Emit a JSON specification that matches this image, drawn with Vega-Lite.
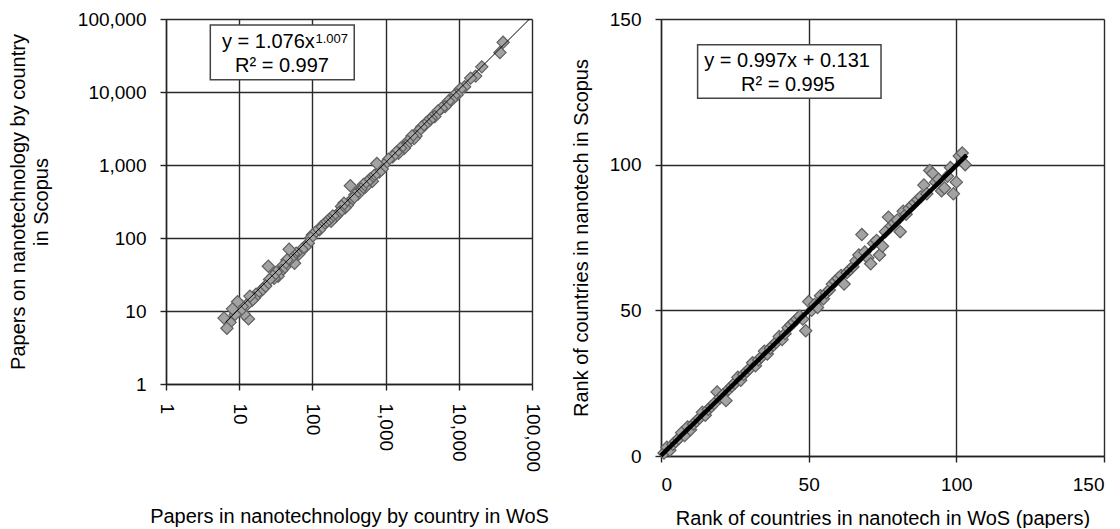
{
  "$schema": "https://vega.github.io/schema/vega-lite/v6.json",
  "background": "white",
  "padding": {"left": 8, "top": 10, "right": 2, "bottom": 0},
  "spacing": 22,
  "config": {
    "font": "Liberation Sans",
    "view": {"stroke": null},
    "axis": {
      "labelFont": "Liberation Sans", "labelFontSize": 19, "labelColor": "#000",
      "titleFont": "Liberation Sans", "titleFontSize": 20, "titleFontWeight": "normal", "titleColor": "#000",
      "domainColor": "#222", "domainWidth": 1.4, "tickColor": "#222", "tickWidth": 1.4, "tickSize": 6,
      "gridColor": "#2a2a2a", "gridWidth": 1.4, "gridOpacity": 1, "labelOverlap": false
    }
  },
  "datasets": {
    "papers": [
      {"wos": 40300, "scopus": 47900}, {"wos": 36400, "scopus": 34700}, {"wos": 20600, "scopus": 22100},
      {"wos": 17000, "scopus": 16500}, {"wos": 14500, "scopus": 15500}, {"wos": 12000, "scopus": 11800},
      {"wos": 10500, "scopus": 11000}, {"wos": 9500, "scopus": 9200}, {"wos": 8600, "scopus": 8900},
      {"wos": 8000, "scopus": 7800}, {"wos": 7200, "scopus": 7500}, {"wos": 6500, "scopus": 6300},
      {"wos": 5800, "scopus": 6000}, {"wos": 5200, "scopus": 5500}, {"wos": 4700, "scopus": 4600},
      {"wos": 4200, "scopus": 4400}, {"wos": 4000, "scopus": 4100}, {"wos": 3600, "scopus": 3800},
      {"wos": 3400, "scopus": 3500}, {"wos": 3100, "scopus": 3300}, {"wos": 2800, "scopus": 2900},
      {"wos": 2600, "scopus": 2500}, {"wos": 2450, "scopus": 2300}, {"wos": 2300, "scopus": 2500},
      {"wos": 2000, "scopus": 2100}, {"wos": 1900, "scopus": 1850}, {"wos": 1800, "scopus": 1700},
      {"wos": 1600, "scopus": 1700}, {"wos": 1500, "scopus": 1450}, {"wos": 1400, "scopus": 1500},
      {"wos": 1250, "scopus": 1300}, {"wos": 1100, "scopus": 1200}, {"wos": 950, "scopus": 1000},
      {"wos": 900, "scopus": 880}, {"wos": 820, "scopus": 800}, {"wos": 760, "scopus": 1050},
      {"wos": 700, "scopus": 720}, {"wos": 660, "scopus": 600}, {"wos": 620, "scopus": 650},
      {"wos": 590, "scopus": 610}, {"wos": 560, "scopus": 580}, {"wos": 530, "scopus": 500},
      {"wos": 500, "scopus": 540}, {"wos": 460, "scopus": 470}, {"wos": 440, "scopus": 430},
      {"wos": 420, "scopus": 400}, {"wos": 380, "scopus": 390}, {"wos": 360, "scopus": 350},
      {"wos": 330, "scopus": 520}, {"wos": 310, "scopus": 300}, {"wos": 300, "scopus": 280},
      {"wos": 280, "scopus": 260}, {"wos": 270, "scopus": 300}, {"wos": 250, "scopus": 270},
      {"wos": 240, "scopus": 230}, {"wos": 230, "scopus": 220}, {"wos": 210, "scopus": 200},
      {"wos": 200, "scopus": 190}, {"wos": 190, "scopus": 200}, {"wos": 180, "scopus": 170},
      {"wos": 170, "scopus": 180}, {"wos": 160, "scopus": 170}, {"wos": 150, "scopus": 160},
      {"wos": 140, "scopus": 150}, {"wos": 130, "scopus": 140}, {"wos": 125, "scopus": 130},
      {"wos": 110, "scopus": 120}, {"wos": 100, "scopus": 110}, {"wos": 95, "scopus": 100},
      {"wos": 88, "scopus": 85}, {"wos": 80, "scopus": 75}, {"wos": 72, "scopus": 70},
      {"wos": 65, "scopus": 60}, {"wos": 60, "scopus": 62}, {"wos": 57, "scopus": 45},
      {"wos": 55, "scopus": 60}, {"wos": 52, "scopus": 55}, {"wos": 50, "scopus": 52},
      {"wos": 48, "scopus": 70}, {"wos": 45, "scopus": 50}, {"wos": 42, "scopus": 40},
      {"wos": 40, "scopus": 42}, {"wos": 38, "scopus": 36}, {"wos": 35, "scopus": 33},
      {"wos": 34, "scopus": 30}, {"wos": 32, "scopus": 34}, {"wos": 30, "scopus": 28},
      {"wos": 29, "scopus": 30}, {"wos": 26, "scopus": 27}, {"wos": 25, "scopus": 41},
      {"wos": 23, "scopus": 22}, {"wos": 21, "scopus": 20}, {"wos": 19, "scopus": 18},
      {"wos": 17, "scopus": 17}, {"wos": 16, "scopus": 15}, {"wos": 15, "scopus": 14},
      {"wos": 14, "scopus": 16}, {"wos": 13.4, "scopus": 7.8}, {"wos": 12.5, "scopus": 12},
      {"wos": 11.7, "scopus": 9}, {"wos": 11, "scopus": 11.5}, {"wos": 10.2, "scopus": 10},
      {"wos": 9.5, "scopus": 13.4}, {"wos": 8.8, "scopus": 9}, {"wos": 8.1, "scopus": 10.7},
      {"wos": 7.5, "scopus": 7}, {"wos": 6.8, "scopus": 5.8}, {"wos": 6.2, "scopus": 8}
    ],
    "fitPower": [
      {"wos": 6.5, "scopus": 7.0}, {"wos": 100000, "scopus": 108000}
    ],
    "ranks": [
      {"wos": 1, "scopus": 1}, {"wos": 2, "scopus": 3}, {"wos": 3, "scopus": 2}, {"wos": 4, "scopus": 4},
      {"wos": 5, "scopus": 5}, {"wos": 6, "scopus": 6}, {"wos": 7, "scopus": 8}, {"wos": 8, "scopus": 7},
      {"wos": 9, "scopus": 10}, {"wos": 10, "scopus": 9}, {"wos": 11, "scopus": 11}, {"wos": 12, "scopus": 12},
      {"wos": 13, "scopus": 13}, {"wos": 14, "scopus": 15}, {"wos": 15, "scopus": 14}, {"wos": 16, "scopus": 16},
      {"wos": 17, "scopus": 17}, {"wos": 18, "scopus": 18}, {"wos": 19, "scopus": 22}, {"wos": 20, "scopus": 20},
      {"wos": 21, "scopus": 21}, {"wos": 22, "scopus": 19}, {"wos": 23, "scopus": 23}, {"wos": 24, "scopus": 24},
      {"wos": 25, "scopus": 25}, {"wos": 26, "scopus": 27}, {"wos": 27, "scopus": 26}, {"wos": 28, "scopus": 28},
      {"wos": 29, "scopus": 29}, {"wos": 30, "scopus": 30}, {"wos": 31, "scopus": 32}, {"wos": 32, "scopus": 31},
      {"wos": 33, "scopus": 33}, {"wos": 34, "scopus": 34}, {"wos": 35, "scopus": 36}, {"wos": 36, "scopus": 35},
      {"wos": 37, "scopus": 37}, {"wos": 38, "scopus": 38}, {"wos": 39, "scopus": 39}, {"wos": 40, "scopus": 41},
      {"wos": 41, "scopus": 40}, {"wos": 42, "scopus": 42}, {"wos": 43, "scopus": 44}, {"wos": 44, "scopus": 45},
      {"wos": 45, "scopus": 46}, {"wos": 46, "scopus": 47}, {"wos": 47, "scopus": 48}, {"wos": 48, "scopus": 47},
      {"wos": 49, "scopus": 43}, {"wos": 50, "scopus": 53}, {"wos": 51, "scopus": 50}, {"wos": 52, "scopus": 52},
      {"wos": 53, "scopus": 51}, {"wos": 54, "scopus": 55}, {"wos": 55, "scopus": 54}, {"wos": 56, "scopus": 56},
      {"wos": 57, "scopus": 57}, {"wos": 58, "scopus": 59}, {"wos": 59, "scopus": 60}, {"wos": 60, "scopus": 61},
      {"wos": 61, "scopus": 62}, {"wos": 62, "scopus": 59}, {"wos": 63, "scopus": 63}, {"wos": 64, "scopus": 64},
      {"wos": 65, "scopus": 65}, {"wos": 66, "scopus": 67}, {"wos": 67, "scopus": 69}, {"wos": 68, "scopus": 76},
      {"wos": 69, "scopus": 70}, {"wos": 70, "scopus": 68}, {"wos": 71, "scopus": 66}, {"wos": 72, "scopus": 73},
      {"wos": 73, "scopus": 74}, {"wos": 74, "scopus": 69}, {"wos": 75, "scopus": 72}, {"wos": 76, "scopus": 77},
      {"wos": 77, "scopus": 82}, {"wos": 78, "scopus": 79}, {"wos": 79, "scopus": 80}, {"wos": 80, "scopus": 81},
      {"wos": 81, "scopus": 77}, {"wos": 82, "scopus": 84}, {"wos": 83, "scopus": 83}, {"wos": 84, "scopus": 85},
      {"wos": 85, "scopus": 86}, {"wos": 86, "scopus": 87}, {"wos": 87, "scopus": 88}, {"wos": 88, "scopus": 89},
      {"wos": 89, "scopus": 93}, {"wos": 90, "scopus": 90}, {"wos": 91, "scopus": 98}, {"wos": 92, "scopus": 97},
      {"wos": 93, "scopus": 94}, {"wos": 94, "scopus": 95}, {"wos": 95, "scopus": 91}, {"wos": 96, "scopus": 92},
      {"wos": 97, "scopus": 96}, {"wos": 98, "scopus": 99}, {"wos": 99, "scopus": 90}, {"wos": 100, "scopus": 94},
      {"wos": 101, "scopus": 103}, {"wos": 102, "scopus": 104}, {"wos": 103, "scopus": 100}
    ],
    "fitLinear": [
      {"wos": 0, "scopus": 0.131}, {"wos": 103.5, "scopus": 103.3}
    ]
  },
  "hconcat": [
    {
      "width": 366,
      "height": 365,
      "layer": [
        {
          "data": {"name": "papers"},
          "mark": {"type": "point", "shape": "diamond", "filled": true, "size": 150, "fill": "#a3a3a3", "stroke": "#5f5f5f", "strokeWidth": 1.2, "opacity": 1},
          "encoding": {
            "x": {"field": "wos", "type": "quantitative",
                  "scale": {"type": "log", "domain": [1, 100000]},
                  "axis": {"values": [1, 10, 100, 1000, 10000, 100000], "format": ",", "labelAngle": 90,
                           "labelPadding": 13, "titlePadding": 35,
                           "title": "Papers in nanotechnology by country in WoS"}},
            "y": {"field": "scopus", "type": "quantitative",
                  "scale": {"type": "log", "domain": [1, 100000]},
                  "axis": {"values": [1, 10, 100, 1000, 10000, 100000], "format": ",",
                           "labelPadding": 14, "titlePadding": 26, "titleLineHeight": 23,
                           "title": ["Papers on nanotechnology by country", "in Scopus"]}}
          }
        },
        {
          "data": {"name": "fitPower"},
          "mark": {"type": "line", "color": "#000", "strokeWidth": 1, "clip": true},
          "encoding": {
            "x": {"field": "wos", "type": "quantitative"},
            "y": {"field": "scopus", "type": "quantitative"}
          }
        },
        {
          "data": {"values": [{"t": ""}]},
          "mark": {"type": "rect", "fill": "white", "stroke": "#444", "strokeWidth": 1.5},
          "encoding": {
            "x": {"datum": 4.03}, "x2": {"datum": 373},
            "y": {"datum": 82700}, "y2": {"datum": 14740}
          }
        },
        {
          "data": {"values": [{"t": "y = 1.076x"}]},
          "mark": {"type": "text", "fontSize": 20, "align": "right", "baseline": "middle", "color": "#000"},
          "encoding": {"x": {"datum": 108}, "y": {"datum": 48400}, "text": {"field": "t"}}
        },
        {
          "data": {"values": [{"t": "1.007"}]},
          "mark": {"type": "text", "fontSize": 13, "align": "left", "baseline": "middle", "color": "#000"},
          "encoding": {"x": {"datum": 110}, "y": {"datum": 53200}, "text": {"field": "t"}}
        },
        {
          "data": {"values": [{"t": "R² = 0.997"}]},
          "mark": {"type": "text", "fontSize": 20, "align": "center", "baseline": "middle", "color": "#000"},
          "encoding": {"x": {"datum": 38.4}, "y": {"datum": 22900}, "text": {"field": "t"}}
        }
      ]
    },
    {
      "width": 443,
      "height": 437,
      "layer": [
        {
          "data": {"name": "ranks"},
          "mark": {"type": "point", "shape": "diamond", "filled": true, "size": 150, "fill": "#a3a3a3", "stroke": "#5f5f5f", "strokeWidth": 1.2, "opacity": 1},
          "encoding": {
            "x": {"field": "wos", "type": "quantitative",
                  "scale": {"domain": [0, 150], "nice": false, "zero": true},
                  "axis": {"values": [0, 50, 100, 150], "labelPadding": 13, "titlePadding": 14,
                           "title": "Rank of countries in nanotech in WoS (papers)"}},
            "y": {"field": "scopus", "type": "quantitative",
                  "scale": {"domain": [0, 150], "nice": false, "zero": true},
                  "axis": {"values": [0, 50, 100, 150], "labelPadding": 14, "titlePadding": 18,
                           "title": "Rank of countries in nanotech in Scopus"}}
          }
        },
        {
          "data": {"name": "fitLinear"},
          "mark": {"type": "line", "color": "#000", "strokeWidth": 4.5},
          "encoding": {
            "x": {"field": "wos", "type": "quantitative"},
            "y": {"field": "scopus", "type": "quantitative"}
          }
        },
        {
          "data": {"values": [{"t": ""}]},
          "mark": {"type": "rect", "fill": "white", "stroke": "#444", "strokeWidth": 1.5},
          "encoding": {
            "x": {"datum": 12.4}, "x2": {"datum": 74.5},
            "y": {"datum": 141.2}, "y2": {"datum": 122.8}
          }
        },
        {
          "data": {"values": [{"t": "y = 0.997x + 0.131"}]},
          "mark": {"type": "text", "fontSize": 20, "align": "center", "baseline": "middle", "color": "#000"},
          "encoding": {"x": {"datum": 42.7}, "y": {"datum": 135.5}, "text": {"field": "t"}}
        },
        {
          "data": {"values": [{"t": "R² = 0.995"}]},
          "mark": {"type": "text", "fontSize": 20, "align": "center", "baseline": "middle", "color": "#000"},
          "encoding": {"x": {"datum": 43}, "y": {"datum": 127.5}, "text": {"field": "t"}}
        }
      ]
    }
  ]
}
